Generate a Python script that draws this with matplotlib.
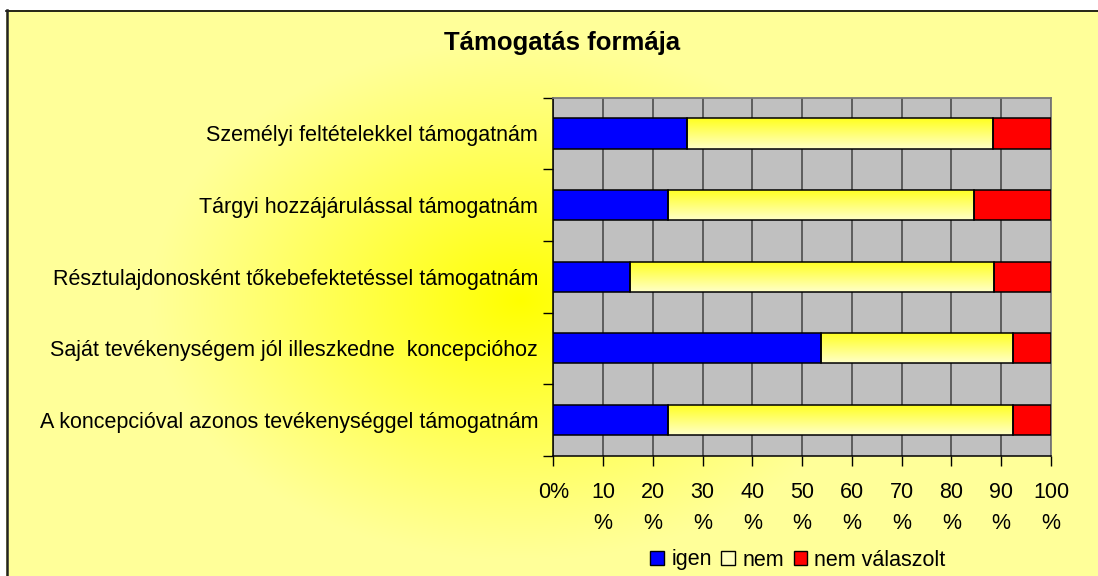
import numpy as np
import matplotlib
matplotlib.use("Agg")
import matplotlib.pyplot as plt
from matplotlib.patches import Patch
from matplotlib.lines import Line2D

# ---- data ----
categories = [
    "Személyi feltételekkel támogatnám",
    "Tárgyi hozzájárulással támogatnám",
    "Résztulajdonosként tőkebefektetéssel támogatnám",
    "Saját tevékenységem jól illeszkedne  koncepcióhoz",
    "A koncepcióval azonos tevékenységgel támogatnám",
]
igen = [26.9, 23.1, 15.4, 53.8, 23.1]
nem = [61.5, 61.5, 73.1, 38.5, 69.2]
nem_valaszolt = [11.6, 15.4, 11.5, 7.7, 7.7]
series_names = ["igen", "nem", "nem válaszolt"]
xtick_values = list(range(0, 101, 10))
xtick_labels = ["0%"] + [f"{v}\n%" for v in xtick_values[1:]]
title = "Támogatás formája"

plt.rcParams['font.family'] = ['Liberation Sans', 'DejaVu Sans']

W, H = 1098, 576
fig = plt.figure(figsize=(W / 100, H / 100), dpi=100)

# ---- background radial gradient ----
bg = fig.add_axes([0, 0, 1, 1], zorder=-10)
yy, xx = np.mgrid[0:H, 0:W]
cx, cy, rx, ry = 520.0, 300.0, 370.0, 260.0
d = np.sqrt(((xx - cx) / rx) ** 2 + ((yy - cy) / ry) ** 2)
f = np.clip(1 - d, 0, 1) ** 1.1
img = np.ones((H, W, 3))
img[..., 2] = (153 / 255.0) * (1 - f)
img[:10, :, :] = 1.0
img[:, :6, :] = 1.0
bg.imshow(img, extent=[0, W, H, 0], aspect='auto', interpolation='bilinear')
bg.set_xlim(0, W)
bg.set_ylim(H, 0)
bg.axis('off')
bg.add_line(Line2D([6, W], [10.5, 10.5], color='black', lw=1.2))
bg.add_line(Line2D([6.5, 6.5], [10, H], color='#222222', lw=1.8))

# ---- main axes ----
left, right, top, bottom = 553.3, 1051.0, 97.7, 455.7
ax = fig.add_axes([left / W, 1 - bottom / H, (right - left) / W, (bottom - top) / H])
ax.set_facecolor('#C0C0C0')

y = np.arange(len(categories))
bh = 0.42
igen_a = np.array(igen)
nem_a = np.array(nem)
nv_a = np.array(nem_valaszolt)

ax.barh(y, igen_a, height=bh, color='#0000FF', edgecolor='black', lw=1.1, zorder=3)
yellow_bars = ax.barh(y, nem_a, left=igen_a, height=bh, facecolor='none',
                      edgecolor='black', lw=1.1, zorder=4)
ax.barh(y, nv_a, left=igen_a + nem_a, height=bh, color='#FF0000', edgecolor='black',
        lw=1.1, zorder=3)

# gradient fill for yellow bars
grad = np.zeros((64, 2, 3))
t = np.linspace(0, 1, 64)
grad[..., 0] = 1.0
grad[..., 1] = 1.0
grad[..., 2] = (0.12 + 0.66 * t)[:, None]
for patch in yellow_bars.patches:
    x0 = patch.get_x()
    x1 = x0 + patch.get_width()
    y0 = patch.get_y()
    y1 = y0 + patch.get_height()
    im = ax.imshow(grad, extent=[x0, x1, y1, y0], aspect='auto', zorder=2,
                   interpolation='bilinear')
    im.set_clip_path(patch)

ax.set_xlim(0, 100)
ax.set_ylim(len(categories) - 0.5, -0.5)
ax.set_aspect('auto')

ax.set_xticks(xtick_values)
ax.set_xticklabels(xtick_labels, fontsize=15.5, linespacing=1.6)
ax.set_yticks(y)
ax.set_yticklabels(categories, fontsize=15.5)
ax.set_yticks(np.arange(-0.5, len(categories), 1), minor=True)
ax.tick_params(axis='y', which='major', length=0, pad=11)
ax.tick_params(axis='y', which='minor', length=7, width=1, color='black', direction='out')
ax.tick_params(axis='x', length=7, width=1, color='black', direction='out', pad=12)

ax.xaxis.grid(True, color='#555555', lw=1.3, zorder=1)
ax.set_axisbelow(True)
for s in ['left', 'bottom']:
    ax.spines[s].set_color('black')
    ax.spines[s].set_linewidth(1.1)
for s in ['top', 'right']:
    ax.spines[s].set_color('#777777')
    ax.spines[s].set_linewidth(1.3)

fig.text(562 / W, 1 - 43 / H, title, fontsize=18.5, fontweight='bold', ha='center', va='center')

handles = [
    Patch(facecolor='#0000FF', edgecolor='black', lw=1.0),
    Patch(facecolor='#FFFFC0', edgecolor='black', lw=1.0),
    Patch(facecolor='#FF0000', edgecolor='black', lw=1.0),
]
fig.legend(handles, series_names, loc='center', bbox_to_anchor=(798 / W, 1 - 560 / H),
           ncol=3, frameon=False, fontsize=15.5, handlelength=0.62, handleheight=0.62,
           handletextpad=0.35, columnspacing=0.45, borderpad=0.1)

fig.savefig('out.png', dpi=100)
